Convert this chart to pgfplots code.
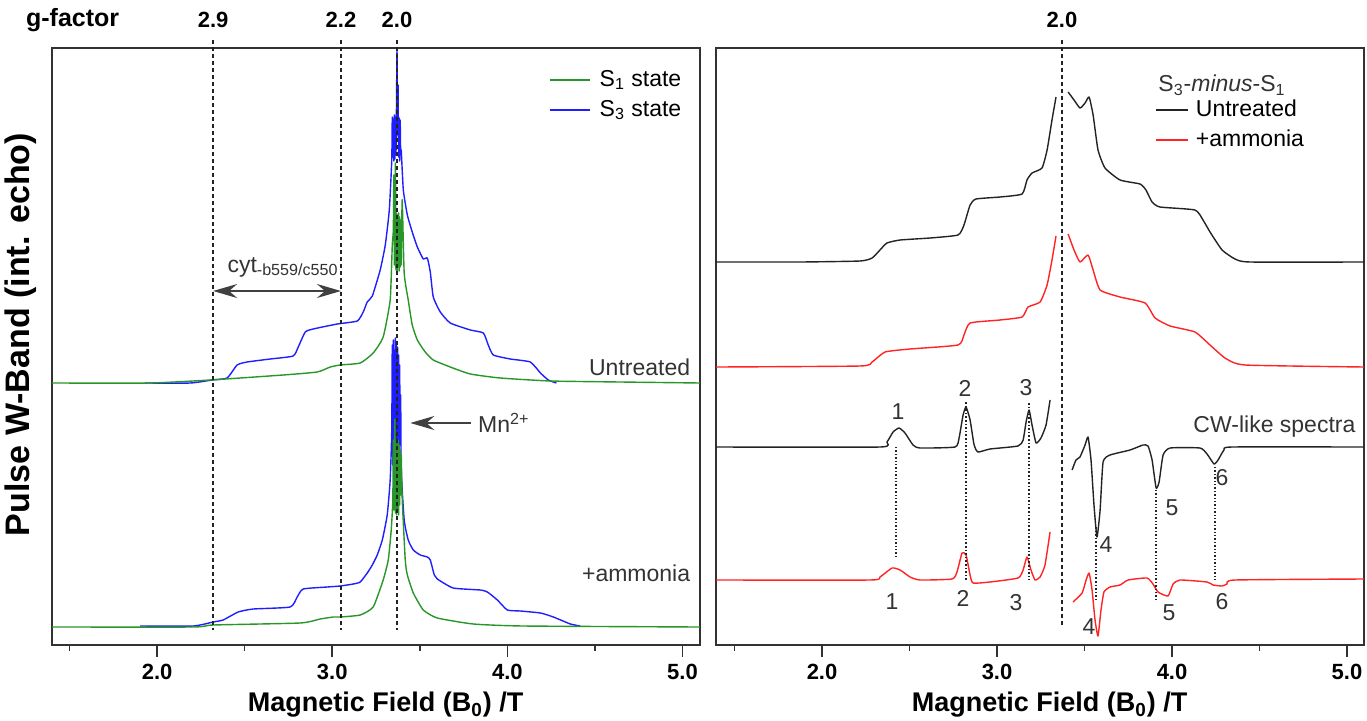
\documentclass[border=0pt]{standalone}
\usepackage{pgfplots}
\pgfplotsset{compat=1.18}
\usepackage{fontspec}
\setmainfont{Liberation Sans}
\usetikzlibrary{arrows.meta}
\definecolor{sgreen}{RGB}{40,150,40}
\definecolor{sblue}{RGB}{30,30,255}
\definecolor{sred}{RGB}{255,35,35}
\definecolor{sblack}{RGB}{35,35,35}
\definecolor{frame}{RGB}{50,50,50}
\newcommand{\annfont}{\fontsize{11.5}{13.5}\selectfont}
\newcommand{\tickfont}{\fontsize{11}{13}\selectfont\bfseries}
\newcommand{\labfont}{\fontsize{13.5}{16}\selectfont\bfseries}
\pgfplotsset{
  panel/.style={
    scale only axis, width=324pt, height=298.5pt,
    ymin=0, ymax=597, clip=false,
    axis line style={frame, line width=1pt},
    xtick={2,3,4,5}, xticklabels={2.0,3.0,4.0,5.0},
    minor xtick={1.5,2.5,3.5,4.5},
    ytick=\empty, xtick pos=bottom, tick align=outside,
    major tick length=6pt, minor tick length=3pt,
    every tick/.style={frame, line width=0.8pt},
    xticklabel style={font=\tickfont},
    /pgf/number format/assume math mode=true,
    xlabel={Magnetic Field (B\textsubscript{0}) /T},
    xlabel style={font=\labfont, at={(axis description cs:0.515,0)}, anchor=center, yshift=-30pt},
    legend cell align=left,
  },
  trace/.style={line width=0.7pt, line join=round, smooth, tension=0.3},
}
\begin{document}
\begin{tikzpicture}
\path[use as bounding box] (-26pt,-37.5pt) rectangle (657.5pt,322.5pt);
% ================= LEFT PANEL =================
\begin{axis}[panel, at={(0pt,0pt)}, anchor=south west, xmin=1.4, xmax=5.1,
  ylabel={Pulse W-Band (int. echo)},
  ylabel style={font=\fontsize{17}{20}\selectfont\bfseries, at={(axis description cs:-0.049,0.52)}, anchor=center},
  legend image code/.code={\draw[#1, line width=1pt] (0pt,0pt) -- (20pt,0pt);},
  legend style={at={(axis cs:4.234,550)}, anchor=west, draw=none, fill=none, inner sep=0pt,
    font=\annfont, row sep=3pt, nodes={inner sep=0.5pt, text height=8.5pt, text depth=2.5pt},
    /tikz/every odd column/.append style={column sep=4pt}}]
\addlegendimage{sgreen}\addlegendentry{S\textsubscript{1} state}
\addlegendimage{sblue}\addlegendentry{S\textsubscript{3} state}
% S3 untreated (blue, upper)
\addplot[trace, sblue, forget plot] coordinates {
(1.931,262)(2.189,262)(2.314,265)(2.400,267)(2.457,280)(2.514,283)(2.646,286)(2.777,289)(2.806,298)(2.846,313)(2.891,316)(3.029,321)(3.143,324)(3.177,333)(3.200,343)(3.229,349)(3.274,375)(3.303,400)(3.326,435)(3.340,485)(3.343,528)(3.346,488)(3.349,526)(3.352,484)(3.355,530)(3.358,486)(3.361,528)(3.364,490)(3.367,540)(3.370,595)(3.373,510)(3.376,560)(3.379,488)(3.382,527)(3.385,484)(3.388,525)(3.391,490)(3.394,495)(3.406,455)(3.429,430)(3.457,413)(3.486,398)(3.520,386)(3.543,387)(3.560,373)(3.577,348)(3.617,333)(3.674,322)(3.789,315)(3.863,312)(3.891,300)(3.920,290)(4.017,286)(4.131,283)(4.189,272)(4.234,265)(4.280,262)};
% S1 untreated (green, upper)
\addplot[trace, sgreen, forget plot] coordinates {
(1.40,262)(1.96,262)(2.303,265)(2.72,270)(2.914,273)(2.989,278)(3.046,280)(3.16,282)(3.234,292)(3.291,308)(3.331,345)(3.343,400)(3.349,415)(3.352,470)(3.355,380)(3.358,430)(3.361,482)(3.364,375)(3.367,432)(3.370,372)(3.373,430)(3.376,378)(3.379,432)(3.382,374)(3.385,428)(3.388,378)(3.391,425)(3.394,380)(3.397,420)(3.40,445)(3.411,372)(3.434,345)(3.457,320)(3.486,305)(3.531,293)(3.577,285)(3.674,278)(3.789,271)(3.96,267)(4.246,264)(4.646,263)(5.10,262)};
% S3 ammonia (blue, lower)
\addplot[trace, sblue, forget plot] coordinates {
(1.903,19)(2.206,19)(2.32,23)(2.377,25)(2.463,33)(2.549,36)(2.76,38)(2.80,48)(2.834,56)(2.971,58)(3.046,59)(3.12,61)(3.16,63)(3.20,72)(3.229,80)(3.257,90)(3.286,105)(3.314,130)(3.331,165)(3.340,215)(3.343,300)(3.346,180)(3.349,305)(3.352,170)(3.355,295)(3.358,175)(3.361,307)(3.364,168)(3.367,300)(3.370,172)(3.373,298)(3.376,176)(3.379,290)(3.382,180)(3.385,280)(3.388,200)(3.391,250)(3.394,175)(3.411,125)(3.434,105)(3.463,95)(3.503,90)(3.543,88)(3.56,85)(3.583,70)(3.60,66)(3.691,57)(3.846,55)(3.886,53)(3.943,45)(4.0,35)(4.074,34)(4.189,32)(4.263,28)(4.36,21)(4.417,19)};
% S1 ammonia (green, lower)
\addplot[trace, sgreen, forget plot] coordinates {
(1.40,18)(2.206,18)(2.32,20)(2.817,22)(2.931,26)(3.006,28)(3.046,28)(3.16,30)(3.234,38)(3.291,65)(3.32,85)(3.337,115)(3.346,145)(3.349,205)(3.352,135)(3.355,200)(3.358,225)(3.361,132)(3.364,205)(3.367,130)(3.370,200)(3.373,135)(3.376,205)(3.379,130)(3.382,200)(3.385,140)(3.388,195)(3.391,150)(3.394,190)(3.40,145)(3.417,85)(3.429,70)(3.463,52)(3.52,35)(3.60,27)(3.806,21)(4.091,19)(5.10,18)};
% g-factor guide lines
\addplot[sblack, line width=0.8pt, dash pattern=on 2pt off 1.5pt, forget plot] coordinates {(2.32,605)(2.32,15)};
\addplot[sblack, line width=0.8pt, dash pattern=on 2pt off 1.5pt, forget plot] coordinates {(3.05,605)(3.05,15)};
\addplot[sblack, line width=0.8pt, dash pattern=on 2pt off 1.5pt, forget plot] coordinates {(3.37,605)(3.37,15)};
\node[font=\fontsize{12.5}{14}\selectfont\bfseries, anchor=west, inner sep=0pt] at (axis cs:1.25,625) {g-factor};
\node[font=\tickfont] at (axis cs:2.32,625) {2.9};
\node[font=\tickfont] at (axis cs:3.05,625) {2.2};
\node[font=\tickfont] at (axis cs:3.37,625) {2.0};
% annotations
\draw[{Stealth[length=12pt,width=7pt,inset=4pt]}-{Stealth[length=12pt,width=7pt,inset=4pt]}, line width=0.9pt, black!75] (axis cs:2.32,354) -- (axis cs:3.05,354);
\node[font=\annfont, anchor=base west, inner sep=0pt, black!80] at (axis cs:2.40,373) {cyt\textsubscript{-b559/c550}};
\draw[-{Stealth[length=12pt,width=7pt,inset=4pt]}, line width=0.9pt, black!75] (axis cs:3.79,222) -- (axis cs:3.446,222);
\node[font=\annfont, anchor=west, inner sep=1pt, black!80] at (axis cs:3.82,222) {Mn\textsuperscript{2+}};
\node[font=\annfont, anchor=east, inner sep=0pt, black!80] at (axis cs:5.046,278) {Untreated};
\node[font=\annfont, anchor=east, inner sep=0pt, black!80] at (axis cs:5.046,72) {+ammonia};
\end{axis}
% ================= RIGHT PANEL =================
\begin{axis}[panel, at={(332pt,0pt)}, anchor=south west, xmin=1.394, xmax=5.097,
  legend image code/.code={\draw[#1, line width=1pt] (0pt,0pt) -- (16pt,0pt);},
  legend style={at={(axis cs:3.9,520)}, anchor=west, draw=none, fill=none, inner sep=0pt,
    font=\annfont, row sep=3pt, nodes={inner sep=0.5pt, text height=8.5pt, text depth=2.5pt},
    /tikz/every odd column/.append style={column sep=3pt}}]
\addlegendimage{sblack}\addlegendentry{Untreated}
\addlegendimage{sred}\addlegendentry{+ammonia}
% integrated untreated (black)
\addplot[trace, sblack, forget plot] coordinates {
(1.394,383)(1.874,383)(2.217,384)(2.286,387)(2.331,395)(2.371,402)(2.446,405)(2.617,407)(2.777,410)(2.811,420)(2.846,440)(2.88,446)(3.017,448)(3.143,451)(3.171,465)(3.2,472)(3.257,477)(3.286,495)(3.314,525)(3.337,548)};
\addplot[trace, sblack, forget plot] coordinates {
(3.406,553)(3.44,545)(3.474,537)(3.503,542)(3.526,548)(3.549,530)(3.577,495)(3.617,477)(3.703,465)(3.817,461)(3.851,455)(3.886,443)(3.931,438)(4.131,435)(4.177,425)(4.217,413)(4.286,395)(4.36,386)(4.446,383)(5.097,383)};
% integrated ammonia (red)
\addplot[trace, sred, forget plot] coordinates {
(1.394,278)(2.217,279)(2.286,283)(2.36,293)(2.503,296)(2.777,300)(2.811,310)(2.846,322)(3.017,325)(3.143,328)(3.177,338)(3.246,343)(3.286,360)(3.314,385)(3.337,409)};
\addplot[trace, sred, forget plot] coordinates {
(3.406,411)(3.44,395)(3.474,383)(3.52,390)(3.549,375)(3.589,355)(3.703,348)(3.846,342)(3.903,327)(3.989,319)(4.131,313)(4.217,300)(4.303,287)(4.417,280)(5.097,278)};
% CW-like untreated (black)
\addplot[trace, sblack, forget plot] coordinates {
(1.394,198)(2.331,198)(2.371,203)(2.406,213)(2.44,217)(2.474,212)(2.52,200)(2.56,197)(2.76,198)(2.783,207)(2.806,230)(2.823,238)(2.846,225)(2.869,200)(2.891,193)(2.96,196)(3.12,199)(3.149,205)(3.166,223)(3.183,235)(3.2,220)(3.223,202)(3.251,207)(3.28,220)(3.303,245)};
\addplot[trace, sblack, forget plot] coordinates {
(3.429,175)(3.451,185)(3.474,188)(3.503,200)(3.52,208)(3.537,185)(3.554,140)(3.571,108)(3.589,135)(3.606,183)(3.646,190)(3.76,195)(3.834,200)(3.863,199)(3.886,185)(3.909,157)(3.926,163)(3.949,190)(3.989,197)(4.16,197)(4.2,191)(4.24,181)(4.263,185)(4.297,195)(4.343,198)(5.097,198)};
% CW-like ammonia (red)
\addplot[trace, sred, forget plot] coordinates {
(1.394,65)(2.274,65)(2.331,68)(2.4,77)(2.446,75)(2.503,68)(2.56,65)(2.743,66)(2.771,73)(2.8,92)(2.823,90)(2.846,70)(2.863,62)(2.96,63)(3.12,67)(3.149,75)(3.171,88)(3.194,75)(3.217,65)(3.246,68)(3.274,80)(3.303,113)};
\addplot[trace, sred, forget plot] coordinates {
(3.434,43)(3.486,52)(3.509,65)(3.526,72)(3.543,55)(3.56,25)(3.577,9)(3.594,35)(3.611,53)(3.646,58)(3.703,60)(3.749,65)(3.857,67)(3.891,61)(3.92,53)(3.977,49)(4.006,61)(4.046,65)(4.2,63)(4.234,60)(4.286,59)(4.314,61)(4.36,65)(5.097,66)};
% guide lines
\addplot[sblack, line width=0.8pt, dash pattern=on 2pt off 1.5pt, forget plot] coordinates {(3.371,605)(3.371,17)};
\addplot[sblack, line width=0.7pt, densely dotted, forget plot] coordinates {(2.423,198)(2.423,87)};
\addplot[sblack, line width=0.8pt, densely dotted, forget plot] coordinates {(2.823,243)(2.823,65)};
\addplot[sblack, line width=0.8pt, densely dotted, forget plot] coordinates {(3.183,242)(3.183,65)};
\addplot[sblack, line width=0.8pt, densely dotted, forget plot] coordinates {(3.566,118)(3.566,45)};
\addplot[sblack, line width=0.7pt, densely dotted, forget plot] coordinates {(3.909,155)(3.909,45)};
\addplot[sblack, line width=0.7pt, densely dotted, forget plot] coordinates {(4.246,178)(4.246,65)};
\node[font=\tickfont] at (axis cs:3.371,625) {2.0};
\node[font=\annfont, anchor=west, inner sep=0pt, black!80] at (axis cs:3.92,560) {S\textsubscript{3}-\textit{minus}-S\textsubscript{1}};
\node[font=\annfont, anchor=east, inner sep=0pt, black!80] at (axis cs:5.05,218) {CW-like spectra};
% peak numbers
\node[font=\annfont, black!80] at (axis cs:2.434,233) {1};
\node[font=\annfont, black!80] at (axis cs:2.817,257) {2};
\node[font=\annfont, black!80] at (axis cs:3.166,257) {3};
\node[font=\annfont, black!80] at (axis cs:3.623,100) {4};
\node[font=\annfont, black!80] at (axis cs:4.0,137) {5};
\node[font=\annfont, black!80] at (axis cs:4.286,167) {6};
\node[font=\annfont, black!80] at (axis cs:2.40,43) {1};
\node[font=\annfont, black!80] at (axis cs:2.806,47) {2};
\node[font=\annfont, black!80] at (axis cs:3.109,42) {3};
\node[font=\annfont, black!80] at (axis cs:3.526,18) {4};
\node[font=\annfont, black!80] at (axis cs:3.983,32) {5};
\node[font=\annfont, black!80] at (axis cs:4.286,43) {6};
\end{axis}
\end{tikzpicture}
\end{document}
